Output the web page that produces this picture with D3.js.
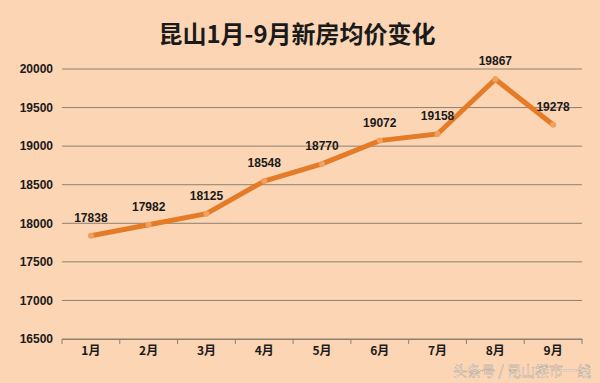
<!DOCTYPE html>
<html>
<head>
<meta charset="utf-8">
<script src="https://cdn.jsdelivr.net/npm/d3@7"></script>
<style>
  body { margin: 0; background: #fcd5b4; }
  svg { display: block; }
</style>
</head>
<body>
<div id="chart"></div>
<script>
// data
var months = ["1月", "2月", "3月", "4月", "5月", "6月", "7月", "8月", "9月"];
var prices = [17838, 17982, 18125, 18548, 18770, 19072, 19158, 19867, 19278];
var yTicks = [16500, 17000, 17500, 18000, 18500, 19000, 19500, 20000];

var width = 600, height = 383;
var margin = {top: 69, right: 18, bottom: 44, left: 62};

var svg = d3.select("#chart").append("svg")
    .attr("width", width)
    .attr("height", height);

svg.append("rect").attr("width", width).attr("height", height).attr("fill", "#fcd5b4");

svg.append("text")
    .attr("x", 297).attr("y", 43)
    .attr("text-anchor", "middle")
    .attr("font-family", "Noto Sans CJK SC")
    .attr("font-weight", "bold")
    .attr("font-size", "24px")
    .attr("fill", "#1a1a1a")
    .text("昆山1月-9月新房均价变化");

var x = d3.scaleBand()
    .domain(months)
    .range([margin.left, width - margin.right]);

var y = d3.scaleLinear()
    .domain([16500, 20000])
    .range([height - margin.bottom, margin.top]);

// gridlines
svg.append("g").selectAll("line")
    .data(yTicks)
    .enter().append("line")
    .attr("x1", margin.left).attr("x2", width - margin.right)
    .attr("y1", function(d) { return y(d); })
    .attr("y2", function(d) { return y(d); })
    .attr("stroke", "#8c8070")
    .attr("stroke-width", 1);

// y axis labels
var yAxis = d3.axisLeft(y).tickValues(yTicks).tickFormat(d3.format("d")).tickSize(0).tickPadding(9);
var gy = svg.append("g")
    .attr("transform", "translate(" + margin.left + ",0)")
    .call(yAxis);
gy.select(".domain").remove();
gy.selectAll("text")
    .attr("font-family", "Liberation Sans, Arial, sans-serif")
    .attr("font-weight", "bold")
    .attr("font-size", "12px")
    .attr("fill", "#1a1a1a");

// x axis
var xAxis = d3.axisBottom(x).tickSize(0).tickPadding(7);
var gx = svg.append("g")
    .attr("transform", "translate(0," + (height - margin.bottom) + ")")
    .call(xAxis);
gx.select(".domain").attr("stroke", "#8c8070");
gx.selectAll("text")
    .attr("font-family", "Noto Sans CJK SC")
    .attr("font-weight", "bold")
    .attr("font-size", "12px")
    .attr("fill", "#1a1a1a");

// band edge tick marks
var edges = months.map(function(m) { return x(m); }).concat([width - margin.right]);
gx.selectAll(".edge")
    .data(edges)
    .enter().append("line")
    .attr("class", "edge")
    .attr("x1", function(d) { return d; })
    .attr("x2", function(d) { return d; })
    .attr("y1", 0).attr("y2", 5)
    .attr("stroke", "#8c8070");

var cx = function(d, i) { return x(months[i]) + x.bandwidth() / 2; };

var line = d3.line()
    .x(function(d, i) { return cx(d, i); })
    .y(function(d) { return y(d); });

svg.append("path")
    .datum(prices)
    .attr("d", line)
    .attr("fill", "none")
    .attr("stroke", "#e47b26")
    .attr("stroke-width", 5)
    .attr("stroke-linejoin", "miter");

svg.append("g").selectAll("circle")
    .data(prices)
    .enter().append("circle")
    .attr("cx", cx)
    .attr("cy", function(d) { return y(d); })
    .attr("r", 3)
    .attr("fill", "#f2a060");

svg.append("g").selectAll("text")
    .data(prices)
    .enter().append("text")
    .attr("x", cx)
    .attr("y", function(d) { return y(d) - 14; })
    .attr("text-anchor", "middle")
    .attr("font-family", "Liberation Sans, Arial, sans-serif")
    .attr("font-weight", "bold")
    .attr("font-size", "12px")
    .attr("fill", "#1a1a1a")
    .text(function(d) { return d; });

// watermark
svg.append("text")
    .attr("x", 591).attr("y", 376)
    .attr("text-anchor", "end")
    .attr("font-family", "Noto Sans CJK SC")
    .attr("font-size", "14px")
    .attr("fill", "#ffffff")
    .attr("fill-opacity", 0.85)
    .attr("stroke", "#a89888")
    .attr("stroke-width", 0.4)
    .text("头条号 / 昆山楼市一线");
</script>
</body>
</html>
